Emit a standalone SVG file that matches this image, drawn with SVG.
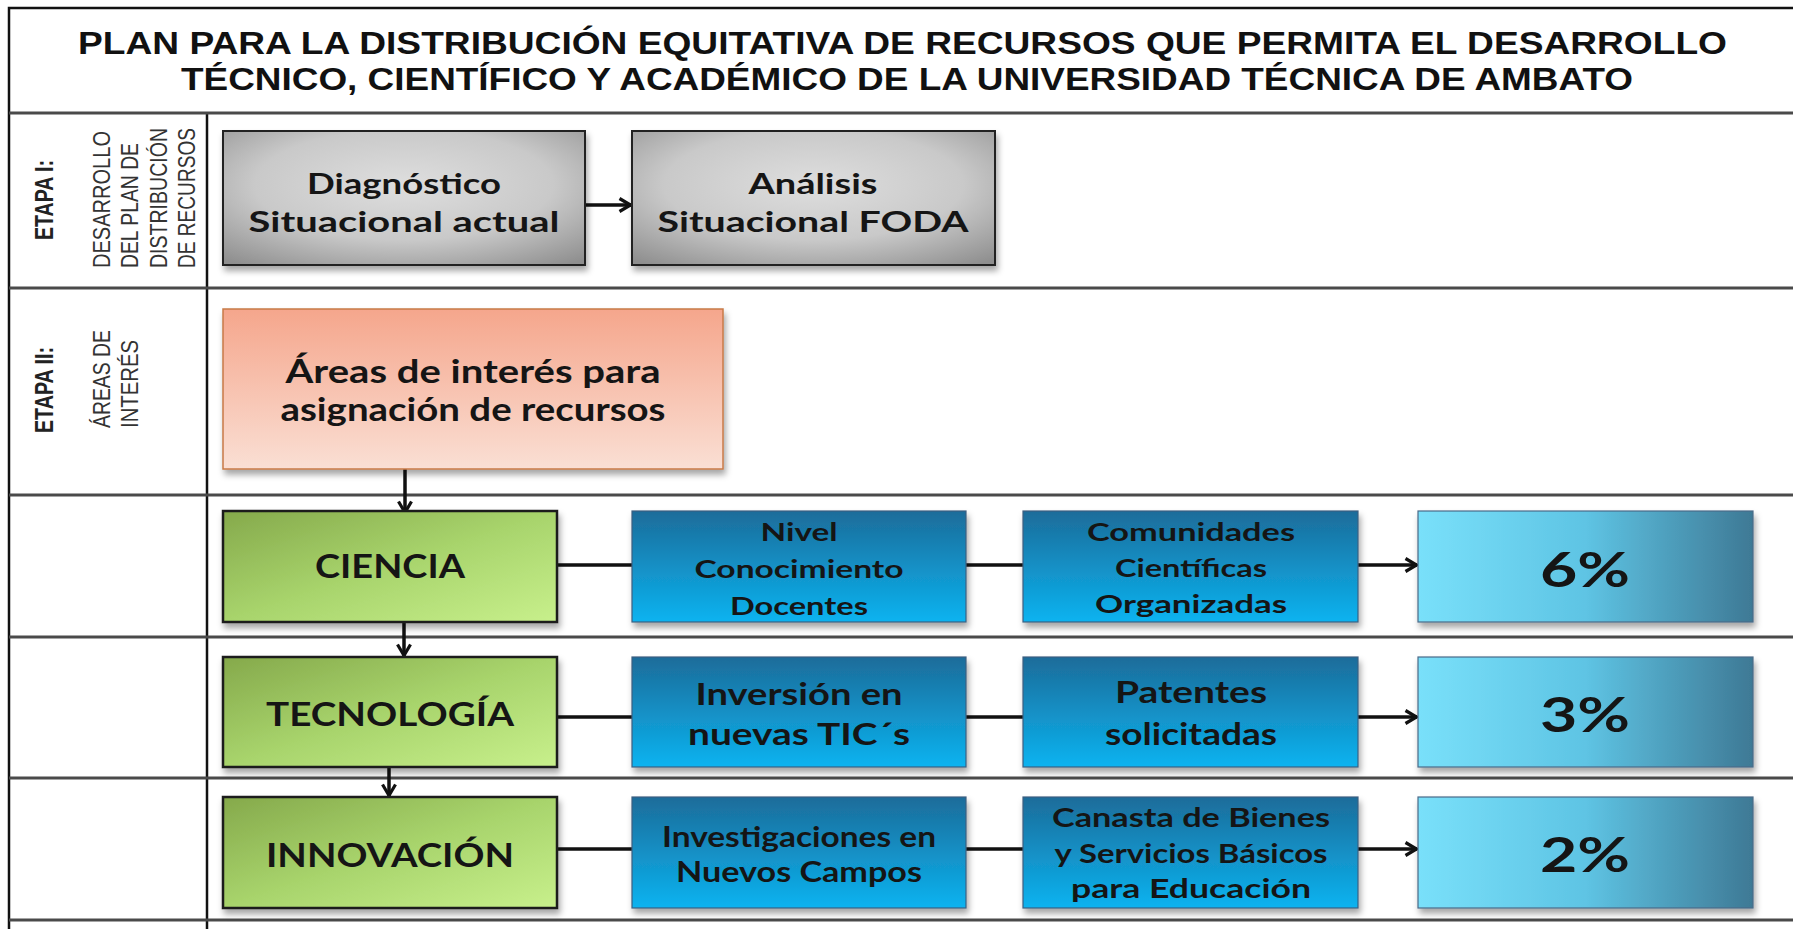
<svg xmlns="http://www.w3.org/2000/svg" width="1793" height="929" viewBox="0 0 1793 929">
<defs>
<style>
.frame{stroke:#111;stroke-width:2.5;fill:none}
.row{stroke:#4a4a4a;stroke-width:3;fill:none}
.title{font-family:"Liberation Sans",Arial,sans-serif;font-weight:700;font-size:32px;fill:#111}
.etapa{font-family:"Liberation Sans",Arial,sans-serif;font-weight:700;font-size:25px;fill:#222}
.desc{font-family:"Liberation Sans",Arial,sans-serif;font-size:24px;fill:#333}
.bt{font-family:Lato,"Open Sans",sans-serif;font-weight:700;fill:#151515;text-anchor:middle}
.conn{stroke:#111;stroke-width:3.5;fill:none}
.gray{fill:url(#gGray);stroke:#222;stroke-width:2}
.salmon{fill:url(#gSalmon);stroke:#c87a48;stroke-width:1.5}
.green{fill:url(#gGreen);stroke:#1a1a1a;stroke-width:2.5}
.blue{fill:url(#gBlue);stroke:#3d5f80;stroke-width:1.2}
.pct{fill:url(#gPct);stroke:#4a6a88;stroke-width:1.2}
</style>
<radialGradient id="gGray" cx="50%" cy="40%" r="75%">
<stop offset="0" stop-color="#dedede"/>
<stop offset="0.55" stop-color="#c9c9c9"/>
<stop offset="1" stop-color="#8f8f8f"/>
</radialGradient>
<linearGradient id="gSalmon" x1="0" y1="0" x2="0" y2="1">
<stop offset="0" stop-color="#f5a68c"/>
<stop offset="1" stop-color="#fadfd4"/>
</linearGradient>
<linearGradient id="gGreen" x1="0" y1="0" x2="1" y2="1">
<stop offset="0" stop-color="#85a94b"/>
<stop offset="0.5" stop-color="#a8d46c"/>
<stop offset="1" stop-color="#c8f08c"/>
</linearGradient>
<linearGradient id="gBlue" x1="0" y1="0" x2="0" y2="1">
<stop offset="0" stop-color="#1c6c9a"/>
<stop offset="1" stop-color="#0bb3f0"/>
</linearGradient>
<linearGradient id="gPct" x1="0" y1="0" x2="1" y2="0">
<stop offset="0" stop-color="#79e0fa"/>
<stop offset="0.5" stop-color="#5ec4e4"/>
<stop offset="1" stop-color="#3e7995"/>
</linearGradient>
<filter id="sh" x="-10%" y="-10%" width="125%" height="135%">
<feDropShadow dx="2" dy="5" stdDeviation="3" flood-color="#000" flood-opacity="0.35"/>
</filter>
<marker id="chev" viewBox="0 0 14 16" refX="13" refY="8" markerWidth="14" markerHeight="16" markerUnits="userSpaceOnUse" orient="auto">
<path d="M1.5,1.5 L12.5,8 L1.5,14.5" fill="none" stroke="#111" stroke-width="3.2" stroke-linejoin="miter"/>
</marker>
</defs>
<rect x="0" y="0" width="1793" height="929" fill="#fff"/>

<g id="table">
<path class="frame" d="M1793,8 H9 V929"/>
<line class="frame" x1="207" y1="113" x2="207" y2="929"/>
<line class="row" x1="9" y1="113" x2="1793" y2="113"/>
<line class="row" x1="9" y1="288" x2="1793" y2="288"/>
<line class="row" x1="9" y1="495" x2="1793" y2="495"/>
<line class="row" x1="9" y1="637" x2="1793" y2="637"/>
<line class="row" x1="9" y1="778" x2="1793" y2="778"/>
<line class="row" x1="9" y1="920" x2="1793" y2="920"/>
</g>

<g id="title">
<text class="title" x="78" y="54" textLength="1649" lengthAdjust="spacingAndGlyphs">PLAN PARA LA DISTRIBUCIÓN EQUITATIVA DE RECURSOS QUE PERMITA EL DESARROLLO</text>
<text class="title" x="181" y="90" textLength="1452" lengthAdjust="spacingAndGlyphs">TÉCNICO, CIENTÍFICO Y ACADÉMICO DE LA UNIVERSIDAD TÉCNICA DE AMBATO</text>
</g>

<g id="etapa1">
<text class="etapa" transform="translate(53,200) rotate(-90)" text-anchor="middle" textLength="80" lengthAdjust="spacingAndGlyphs">ETAPA I:</text>
<text class="desc" transform="translate(110,268) rotate(-90)" textLength="137" lengthAdjust="spacingAndGlyphs">DESARROLLO</text>
<text class="desc" transform="translate(138,268) rotate(-90)" textLength="125" lengthAdjust="spacingAndGlyphs">DEL PLAN DE</text>
<text class="desc" transform="translate(167,268) rotate(-90)" textLength="140" lengthAdjust="spacingAndGlyphs">DISTRIBUCIÓN</text>
<text class="desc" transform="translate(195,268) rotate(-90)" textLength="140" lengthAdjust="spacingAndGlyphs">DE RECURSOS</text>
</g>
<g id="etapa2">
<text class="etapa" transform="translate(53,390) rotate(-90)" text-anchor="middle" textLength="86" lengthAdjust="spacingAndGlyphs">ETAPA II:</text>
<text class="desc" transform="translate(110,428) rotate(-90)" textLength="98" lengthAdjust="spacingAndGlyphs">ÁREAS DE</text>
<text class="desc" transform="translate(138,428) rotate(-90)" textLength="88" lengthAdjust="spacingAndGlyphs">INTERÉS</text>
</g>

<g id="connectors">
<line class="conn" x1="585" y1="205" x2="631" y2="205" marker-end="url(#chev)"/>
<line class="conn" x1="405" y1="469" x2="405" y2="513" marker-end="url(#chev)"/>
<line class="conn" x1="404" y1="623" x2="404" y2="656" marker-end="url(#chev)"/>
<line class="conn" x1="389" y1="767" x2="389" y2="796" marker-end="url(#chev)"/>
<line class="conn" x1="557" y1="565" x2="632" y2="565"/>
<line class="conn" x1="966" y1="565" x2="1023" y2="565"/>
<line class="conn" x1="1358" y1="565" x2="1417" y2="565" marker-end="url(#chev)"/>
<line class="conn" x1="557" y1="717" x2="632" y2="717"/>
<line class="conn" x1="966" y1="717" x2="1023" y2="717"/>
<line class="conn" x1="1358" y1="717" x2="1417" y2="717" marker-end="url(#chev)"/>
<line class="conn" x1="557" y1="849" x2="632" y2="849"/>
<line class="conn" x1="966" y1="849" x2="1023" y2="849"/>
<line class="conn" x1="1358" y1="849" x2="1417" y2="849" marker-end="url(#chev)"/>
</g>

<g id="diagnostico">
<rect class="gray" x="223" y="131" width="362" height="134" filter="url(#sh)"/>
<text class="bt" x="404" y="194" font-size="29" textLength="194" lengthAdjust="spacingAndGlyphs">Diagnóstico</text>
<text class="bt" x="404" y="232" font-size="29" textLength="311" lengthAdjust="spacingAndGlyphs">Situacional actual</text>
</g>
<g id="analisis">
<rect class="gray" x="632" y="131" width="363" height="134" filter="url(#sh)"/>
<text class="bt" x="813" y="194" font-size="29" textLength="129" lengthAdjust="spacingAndGlyphs">Análisis</text>
<text class="bt" x="813" y="232" font-size="29" textLength="311" lengthAdjust="spacingAndGlyphs">Situacional FODA</text>
</g>
<g id="areas">
<rect class="salmon" x="223" y="309" width="500" height="160" filter="url(#sh)"/>
<text class="bt" x="473" y="383" font-size="33" textLength="375" lengthAdjust="spacingAndGlyphs">Áreas de interés para</text>
<text class="bt" x="473" y="421" font-size="33" textLength="385" lengthAdjust="spacingAndGlyphs">asignación de recursos</text>
</g>

<g id="ciencia">
<rect class="green" x="223" y="511" width="334" height="111" filter="url(#sh)"/>
<text class="bt" x="390" y="578" font-size="32" textLength="150" lengthAdjust="spacingAndGlyphs">CIENCIA</text>
</g>
<g id="nivel">
<rect class="blue" x="632" y="511" width="334" height="111" filter="url(#sh)"/>
<text class="bt" x="799" y="541" font-size="25" textLength="77" lengthAdjust="spacingAndGlyphs">Nivel</text>
<text class="bt" x="799" y="578" font-size="25" textLength="209" lengthAdjust="spacingAndGlyphs">Conocimiento</text>
<text class="bt" x="799" y="615" font-size="25" textLength="138" lengthAdjust="spacingAndGlyphs">Docentes</text>
</g>
<g id="comunidades">
<rect class="blue" x="1023" y="511" width="335" height="111" filter="url(#sh)"/>
<text class="bt" x="1191" y="541" font-size="25" textLength="208" lengthAdjust="spacingAndGlyphs">Comunidades</text>
<text class="bt" x="1191" y="577" font-size="25" textLength="152" lengthAdjust="spacingAndGlyphs">Científicas</text>
<text class="bt" x="1191" y="613" font-size="25" textLength="192" lengthAdjust="spacingAndGlyphs">Organizadas</text>
</g>
<g id="pct6">
<rect class="pct" x="1418" y="511" width="335" height="111" filter="url(#sh)"/>
<text class="bt" x="1585" y="587" font-size="48" textLength="90" lengthAdjust="spacingAndGlyphs">6%</text>
</g>

<g id="tecnologia">
<rect class="green" x="223" y="657" width="334" height="110" filter="url(#sh)"/>
<text class="bt" x="390" y="726" font-size="32" textLength="248" lengthAdjust="spacingAndGlyphs">TECNOLOGÍA</text>
</g>
<g id="inversion">
<rect class="blue" x="632" y="657" width="334" height="110" filter="url(#sh)"/>
<text class="bt" x="799" y="705" font-size="30" textLength="207" lengthAdjust="spacingAndGlyphs">Inversión en</text>
<text class="bt" x="799" y="745" font-size="30" textLength="222" lengthAdjust="spacingAndGlyphs">nuevas TIC´s</text>
</g>
<g id="patentes">
<rect class="blue" x="1023" y="657" width="335" height="110" filter="url(#sh)"/>
<text class="bt" x="1191" y="703" font-size="30" textLength="152" lengthAdjust="spacingAndGlyphs">Patentes</text>
<text class="bt" x="1191" y="745" font-size="30" textLength="172" lengthAdjust="spacingAndGlyphs">solicitadas</text>
</g>
<g id="pct3">
<rect class="pct" x="1418" y="657" width="335" height="110" filter="url(#sh)"/>
<text class="bt" x="1585" y="732" font-size="48" textLength="90" lengthAdjust="spacingAndGlyphs">3%</text>
</g>

<g id="innovacion">
<rect class="green" x="223" y="797" width="334" height="111" filter="url(#sh)"/>
<text class="bt" x="390" y="867" font-size="32" textLength="248" lengthAdjust="spacingAndGlyphs">INNOVACIÓN</text>
</g>
<g id="investigaciones">
<rect class="blue" x="632" y="797" width="334" height="111" filter="url(#sh)"/>
<text class="bt" x="799" y="847" font-size="28" textLength="274" lengthAdjust="spacingAndGlyphs">Investigaciones en</text>
<text class="bt" x="799" y="882" font-size="28" textLength="246" lengthAdjust="spacingAndGlyphs">Nuevos Campos</text>
</g>
<g id="canasta">
<rect class="blue" x="1023" y="797" width="335" height="111" filter="url(#sh)"/>
<text class="bt" x="1191" y="827" font-size="27" textLength="278" lengthAdjust="spacingAndGlyphs">Canasta de Bienes</text>
<text class="bt" x="1191" y="863" font-size="27" textLength="273" lengthAdjust="spacingAndGlyphs">y Servicios Básicos</text>
<text class="bt" x="1191" y="898" font-size="27" textLength="240" lengthAdjust="spacingAndGlyphs">para Educación</text>
</g>
<g id="pct2">
<rect class="pct" x="1418" y="797" width="335" height="111" filter="url(#sh)"/>
<text class="bt" x="1585" y="872" font-size="48" textLength="90" lengthAdjust="spacingAndGlyphs">2%</text>
</g>
</svg>
